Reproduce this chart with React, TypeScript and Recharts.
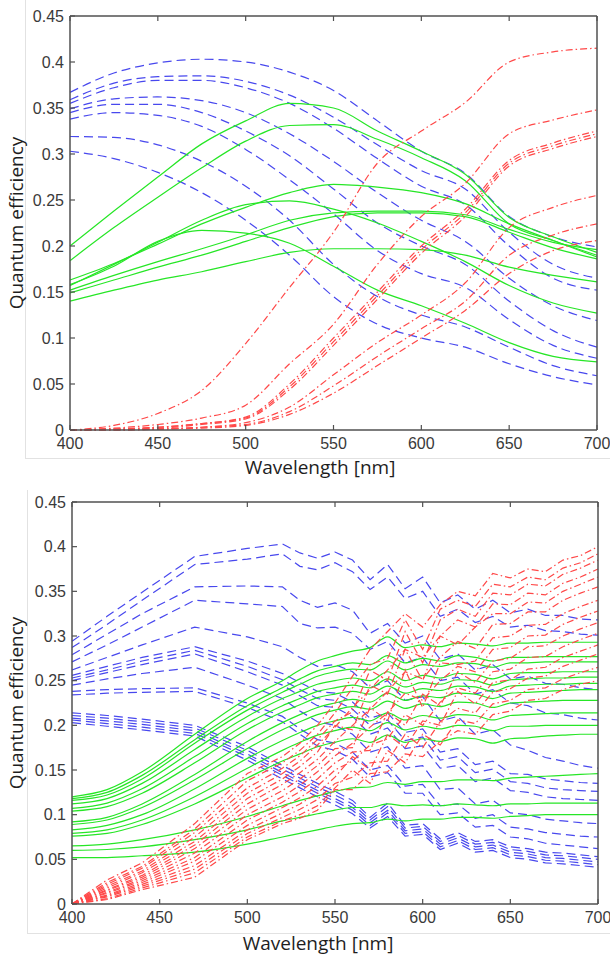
import React from "react";
import { LineChart, Line, XAxis, YAxis } from "recharts";

// wavelength grids (nm)
const X_TOP = [400, 425, 450, 475, 500, 525, 550, 575, 600, 625, 650, 675, 700];
const X_BOTTOM = [400, 420, 440, 470, 500, 520, 530, 540, 550, 560, 570, 580, 590, 600, 610, 620, 630, 640, 650, 660, 670, 680, 690, 700];
const X_TICKS = [400, 450, 500, 550, 600, 650, 700];
const Y_TICKS = [0, 0.05, 0.1, 0.15, 0.2, 0.25, 0.3, 0.35, 0.4, 0.45];

// ---- top panel: blue (dashed) ----
const TB1 = [0.367, 0.388, 0.399, 0.403, 0.4, 0.389, 0.369, 0.336, 0.303, 0.279, 0.232, 0.21, 0.199];
const TB2 = [0.359, 0.377, 0.384, 0.385, 0.379, 0.364, 0.34, 0.31, 0.282, 0.262, 0.215, 0.18, 0.165];
const TB3 = [0.355, 0.372, 0.38, 0.38, 0.372, 0.355, 0.328, 0.295, 0.265, 0.245, 0.2, 0.165, 0.152];
const TB4 = [0.349, 0.36, 0.362, 0.358, 0.345, 0.322, 0.292, 0.258, 0.228, 0.205, 0.165, 0.135, 0.119];
const TB5 = [0.345, 0.354, 0.354, 0.345, 0.325, 0.298, 0.262, 0.225, 0.2, 0.18, 0.14, 0.108, 0.09];
const TB6 = [0.338, 0.345, 0.342, 0.33, 0.305, 0.272, 0.235, 0.195, 0.17, 0.155, 0.12, 0.092, 0.078];
const TB7 = [0.319, 0.318, 0.31, 0.292, 0.265, 0.228, 0.18, 0.145, 0.125, 0.112, 0.09, 0.07, 0.059];
const TB8 = [0.303, 0.295, 0.28, 0.258, 0.228, 0.19, 0.145, 0.115, 0.1, 0.09, 0.072, 0.058, 0.049];
// ---- top panel: green (solid) ----
const TG1 = [0.2, 0.238, 0.275, 0.311, 0.336, 0.355, 0.35, 0.325, 0.303, 0.278, 0.231, 0.21, 0.193];
const TG2 = [0.184, 0.22, 0.253, 0.285, 0.314, 0.331, 0.332, 0.316, 0.296, 0.271, 0.224, 0.206, 0.19];
const TG3 = [0.163, 0.181, 0.202, 0.224, 0.242, 0.258, 0.267, 0.264, 0.258, 0.246, 0.224, 0.206, 0.188];
const TG4 = [0.157, 0.18, 0.204, 0.228, 0.245, 0.249, 0.24, 0.225, 0.205, 0.183, 0.157, 0.138, 0.127];
const TG5 = [0.158, 0.178, 0.205, 0.217, 0.214, 0.203, 0.178, 0.152, 0.135, 0.116, 0.095, 0.08, 0.074];
const TG6 = [0.152, 0.168, 0.183, 0.197, 0.212, 0.228, 0.236, 0.238, 0.238, 0.234, 0.218, 0.204, 0.196];
const TG7 = [0.149, 0.163, 0.177, 0.19, 0.205, 0.22, 0.232, 0.236, 0.236, 0.232, 0.215, 0.198, 0.186];
const TG8 = [0.14, 0.152, 0.163, 0.172, 0.183, 0.193, 0.197, 0.197, 0.196, 0.19, 0.177, 0.168, 0.161];
// ---- top panel: red (dash-dot) ----
const TR1 = [0, 0.005, 0.018, 0.043, 0.094, 0.155, 0.215, 0.29, 0.325, 0.356, 0.4, 0.411, 0.415];
const TR2 = [0, 0.002, 0.006, 0.013, 0.027, 0.072, 0.115, 0.18, 0.232, 0.268, 0.322, 0.337, 0.348];
const TR3 = [0, 0.001, 0.003, 0.007, 0.014, 0.05, 0.1, 0.15, 0.2, 0.24, 0.293, 0.312, 0.325];
const TR4 = [0, 0.001, 0.003, 0.007, 0.013, 0.047, 0.096, 0.146, 0.196, 0.236, 0.29, 0.309, 0.322];
const TR5 = [0, 0.001, 0.002, 0.006, 0.012, 0.044, 0.092, 0.142, 0.192, 0.232, 0.287, 0.306, 0.319];
const TR6 = [0, 0, 0.001, 0.003, 0.008, 0.025, 0.06, 0.095, 0.125, 0.16, 0.22, 0.242, 0.255];
const TR7 = [0, 0, 0.001, 0.003, 0.006, 0.02, 0.048, 0.08, 0.11, 0.14, 0.19, 0.212, 0.224];
const TR8 = [0, 0, 0.001, 0.002, 0.005, 0.017, 0.04, 0.07, 0.1, 0.13, 0.17, 0.195, 0.206];

// ---- bottom panel: blue (dashed) ----
const BB1 = [0.294, 0.322, 0.349, 0.389, 0.398, 0.403, 0.393, 0.387, 0.394, 0.385, 0.363, 0.38, 0.353, 0.366, 0.337, 0.346, 0.33, 0.34, 0.326, 0.33, 0.323, 0.323, 0.319, 0.318];
const BB2 = [0.287, 0.313, 0.34, 0.38, 0.386, 0.392, 0.378, 0.374, 0.382, 0.372, 0.352, 0.366, 0.342, 0.35, 0.322, 0.33, 0.315, 0.322, 0.31, 0.312, 0.306, 0.305, 0.302, 0.301];
const BB3 = [0.279, 0.302, 0.325, 0.355, 0.356, 0.355, 0.34, 0.332, 0.337, 0.329, 0.303, 0.314, 0.292, 0.3, 0.274, 0.28, 0.262, 0.268, 0.252, 0.255, 0.247, 0.246, 0.242, 0.24];
const BB4 = [0.271, 0.29, 0.31, 0.34, 0.336, 0.333, 0.314, 0.309, 0.31, 0.303, 0.285, 0.294, 0.27, 0.276, 0.25, 0.254, 0.235, 0.24, 0.225, 0.222, 0.214, 0.212, 0.208, 0.206];
const BB5 = [0.262, 0.276, 0.29, 0.31, 0.299, 0.288, 0.276, 0.266, 0.268, 0.26, 0.242, 0.25, 0.228, 0.232, 0.205, 0.21, 0.19, 0.195, 0.178, 0.172, 0.164, 0.16, 0.155, 0.152];
const BB6 = [0.256, 0.266, 0.276, 0.288, 0.272, 0.258, 0.248, 0.238, 0.236, 0.226, 0.208, 0.214, 0.192, 0.196, 0.17, 0.174, 0.156, 0.16, 0.146, 0.145, 0.14, 0.138, 0.136, 0.135];
const BB7 = [0.253, 0.262, 0.272, 0.284, 0.266, 0.251, 0.24, 0.23, 0.228, 0.218, 0.2, 0.206, 0.183, 0.187, 0.161, 0.165, 0.147, 0.151, 0.137, 0.135, 0.13, 0.128, 0.127, 0.126];
const BB8 = [0.25, 0.259, 0.268, 0.28, 0.26, 0.245, 0.233, 0.222, 0.22, 0.21, 0.19, 0.197, 0.174, 0.177, 0.152, 0.155, 0.137, 0.141, 0.127, 0.125, 0.12, 0.118, 0.117, 0.116];
const BB9 = [0.245, 0.252, 0.258, 0.265, 0.245, 0.23, 0.216, 0.204, 0.2, 0.19, 0.17, 0.176, 0.152, 0.155, 0.128, 0.13, 0.112, 0.116, 0.102, 0.1, 0.095, 0.093, 0.091, 0.09];
const BB10 = [0.238, 0.24, 0.241, 0.242, 0.225, 0.21, 0.196, 0.184, 0.18, 0.17, 0.15, 0.155, 0.132, 0.134, 0.11, 0.112, 0.096, 0.1, 0.086, 0.084, 0.08, 0.078, 0.076, 0.075];
const BB11 = [0.234, 0.236, 0.237, 0.238, 0.22, 0.204, 0.19, 0.177, 0.172, 0.162, 0.142, 0.147, 0.124, 0.124, 0.1, 0.102, 0.086, 0.088, 0.075, 0.073, 0.068, 0.066, 0.064, 0.062];
const BB12 = [0.214, 0.211, 0.207, 0.2, 0.176, 0.155, 0.145, 0.135, 0.126, 0.116, 0.097, 0.113, 0.088, 0.09, 0.073, 0.08, 0.07, 0.072, 0.064, 0.062, 0.058, 0.057, 0.055, 0.053];
const BB13 = [0.211, 0.208, 0.204, 0.197, 0.172, 0.151, 0.141, 0.131, 0.122, 0.112, 0.094, 0.109, 0.085, 0.087, 0.07, 0.077, 0.067, 0.069, 0.061, 0.059, 0.055, 0.054, 0.052, 0.05];
const BB14 = [0.208, 0.205, 0.201, 0.194, 0.168, 0.147, 0.137, 0.127, 0.118, 0.108, 0.091, 0.105, 0.082, 0.084, 0.067, 0.074, 0.064, 0.066, 0.058, 0.056, 0.052, 0.051, 0.049, 0.047];
const BB15 = [0.206, 0.202, 0.198, 0.191, 0.165, 0.144, 0.134, 0.124, 0.115, 0.105, 0.088, 0.102, 0.079, 0.081, 0.064, 0.071, 0.061, 0.063, 0.055, 0.053, 0.049, 0.048, 0.046, 0.044];
const BB16 = [0.203, 0.199, 0.195, 0.188, 0.161, 0.14, 0.13, 0.12, 0.111, 0.101, 0.085, 0.098, 0.076, 0.078, 0.061, 0.068, 0.058, 0.06, 0.052, 0.05, 0.046, 0.045, 0.043, 0.041];
// ---- bottom panel: green (solid) ----
const BG1 = [0.12, 0.128, 0.148, 0.19, 0.23, 0.25, 0.262, 0.272, 0.278, 0.283, 0.287, 0.299, 0.287, 0.29, 0.288, 0.292, 0.291, 0.289, 0.292, 0.292, 0.293, 0.293, 0.293, 0.293];
const BG2 = [0.118, 0.125, 0.144, 0.184, 0.222, 0.242, 0.252, 0.261, 0.266, 0.27, 0.268, 0.278, 0.27, 0.275, 0.272, 0.278, 0.276, 0.272, 0.276, 0.276, 0.277, 0.277, 0.277, 0.277];
const BG3 = [0.116, 0.122, 0.14, 0.18, 0.217, 0.237, 0.246, 0.255, 0.26, 0.263, 0.262, 0.272, 0.262, 0.268, 0.266, 0.27, 0.269, 0.265, 0.27, 0.27, 0.271, 0.271, 0.271, 0.271];
const BG4 = [0.112, 0.118, 0.135, 0.173, 0.21, 0.23, 0.238, 0.246, 0.25, 0.253, 0.25, 0.26, 0.25, 0.256, 0.253, 0.258, 0.257, 0.252, 0.258, 0.259, 0.259, 0.26, 0.26, 0.26];
const BG5 = [0.107, 0.113, 0.129, 0.165, 0.202, 0.222, 0.23, 0.238, 0.242, 0.245, 0.242, 0.252, 0.243, 0.248, 0.246, 0.251, 0.25, 0.245, 0.251, 0.252, 0.253, 0.253, 0.254, 0.254];
const BG6 = [0.104, 0.109, 0.124, 0.158, 0.195, 0.215, 0.223, 0.231, 0.235, 0.238, 0.235, 0.244, 0.236, 0.241, 0.239, 0.244, 0.243, 0.238, 0.244, 0.245, 0.246, 0.246, 0.247, 0.247];
const BG7 = [0.092, 0.097, 0.112, 0.145, 0.182, 0.203, 0.212, 0.22, 0.225, 0.229, 0.226, 0.236, 0.228, 0.233, 0.231, 0.236, 0.235, 0.23, 0.236, 0.237, 0.238, 0.239, 0.24, 0.24];
const BG8 = [0.089, 0.094, 0.108, 0.139, 0.174, 0.195, 0.204, 0.212, 0.217, 0.221, 0.218, 0.227, 0.219, 0.224, 0.221, 0.226, 0.225, 0.22, 0.225, 0.226, 0.227, 0.228, 0.228, 0.228];
const BG9 = [0.083, 0.088, 0.1, 0.129, 0.163, 0.183, 0.192, 0.2, 0.205, 0.209, 0.205, 0.214, 0.206, 0.211, 0.208, 0.212, 0.211, 0.206, 0.211, 0.212, 0.213, 0.214, 0.214, 0.214];
const BG10 = [0.079, 0.083, 0.094, 0.12, 0.152, 0.172, 0.181, 0.189, 0.194, 0.198, 0.194, 0.203, 0.195, 0.199, 0.196, 0.2, 0.199, 0.194, 0.199, 0.199, 0.2, 0.2, 0.2, 0.2];
const BG11 = [0.076, 0.079, 0.089, 0.112, 0.141, 0.16, 0.168, 0.176, 0.181, 0.185, 0.181, 0.189, 0.181, 0.185, 0.182, 0.186, 0.185, 0.18, 0.185, 0.186, 0.188, 0.189, 0.19, 0.19];
const BG12 = [0.065, 0.067, 0.072, 0.083, 0.098, 0.11, 0.116, 0.121, 0.126, 0.13, 0.131, 0.136, 0.134, 0.137, 0.137, 0.139, 0.139, 0.138, 0.141, 0.142, 0.143, 0.144, 0.145, 0.146];
const BG13 = [0.06, 0.061, 0.064, 0.072, 0.083, 0.093, 0.097, 0.101, 0.105, 0.108, 0.108, 0.112, 0.11, 0.111, 0.11, 0.112, 0.111, 0.11, 0.112, 0.112, 0.113, 0.113, 0.113, 0.113];
const BG14 = [0.052, 0.052, 0.054, 0.058, 0.067, 0.075, 0.079, 0.083, 0.087, 0.09, 0.091, 0.095, 0.093, 0.095, 0.095, 0.097, 0.097, 0.096, 0.098, 0.099, 0.1, 0.1, 0.1, 0.1];
// ---- bottom panel: red (dash-dot) ----
const BR1 = [0, 0.027, 0.046, 0.09, 0.146, 0.165, 0.18, 0.2, 0.225, 0.255, 0.285, 0.305, 0.325, 0.31, 0.335, 0.35, 0.345, 0.37, 0.365, 0.375, 0.372, 0.385, 0.39, 0.4];
const BR2 = [0, 0.024, 0.042, 0.084, 0.138, 0.158, 0.172, 0.19, 0.214, 0.242, 0.268, 0.275, 0.318, 0.285, 0.33, 0.34, 0.333, 0.358, 0.355, 0.366, 0.363, 0.376, 0.382, 0.392];
const BR3 = [0, 0.022, 0.04, 0.08, 0.13, 0.152, 0.166, 0.184, 0.205, 0.215, 0.262, 0.25, 0.305, 0.27, 0.318, 0.33, 0.322, 0.348, 0.346, 0.358, 0.356, 0.369, 0.376, 0.385];
const BR4 = [0, 0.02, 0.037, 0.075, 0.124, 0.146, 0.16, 0.178, 0.198, 0.22, 0.24, 0.262, 0.285, 0.276, 0.3, 0.318, 0.31, 0.336, 0.335, 0.348, 0.346, 0.359, 0.366, 0.375];
const BR5 = [0, 0.018, 0.035, 0.07, 0.118, 0.14, 0.154, 0.17, 0.2, 0.195, 0.245, 0.235, 0.285, 0.25, 0.3, 0.29, 0.31, 0.325, 0.325, 0.338, 0.337, 0.35, 0.358, 0.366];
const BR6 = [0, 0.016, 0.032, 0.066, 0.112, 0.134, 0.147, 0.162, 0.182, 0.2, 0.218, 0.238, 0.26, 0.252, 0.276, 0.294, 0.286, 0.313, 0.314, 0.327, 0.327, 0.34, 0.348, 0.355];
const BR7 = [0, 0.015, 0.03, 0.062, 0.106, 0.127, 0.14, 0.155, 0.174, 0.175, 0.22, 0.205, 0.262, 0.22, 0.27, 0.268, 0.272, 0.298, 0.3, 0.312, 0.313, 0.325, 0.333, 0.34];
const BR8 = [0, 0.013, 0.028, 0.057, 0.1, 0.12, 0.133, 0.148, 0.166, 0.18, 0.198, 0.214, 0.236, 0.228, 0.25, 0.266, 0.26, 0.285, 0.287, 0.3, 0.301, 0.313, 0.321, 0.328];
const BR9 = [0, 0.012, 0.026, 0.052, 0.094, 0.114, 0.126, 0.14, 0.158, 0.17, 0.172, 0.215, 0.2, 0.235, 0.222, 0.26, 0.248, 0.272, 0.275, 0.288, 0.289, 0.3, 0.308, 0.315];
const BR10 = [0, 0.01, 0.024, 0.048, 0.088, 0.108, 0.119, 0.132, 0.15, 0.16, 0.178, 0.185, 0.212, 0.2, 0.226, 0.242, 0.236, 0.26, 0.263, 0.276, 0.277, 0.288, 0.296, 0.303];
const BR11 = [0, 0.009, 0.022, 0.043, 0.083, 0.102, 0.112, 0.124, 0.142, 0.165, 0.15, 0.19, 0.175, 0.205, 0.2, 0.238, 0.224, 0.248, 0.251, 0.263, 0.265, 0.276, 0.283, 0.29];
const BR12 = [0, 0.008, 0.02, 0.039, 0.079, 0.097, 0.106, 0.117, 0.135, 0.142, 0.158, 0.16, 0.19, 0.175, 0.204, 0.219, 0.214, 0.237, 0.241, 0.253, 0.255, 0.266, 0.273, 0.28];
const BR13 = [0, 0.006, 0.018, 0.035, 0.075, 0.093, 0.1, 0.11, 0.13, 0.15, 0.135, 0.172, 0.158, 0.19, 0.178, 0.206, 0.202, 0.224, 0.228, 0.24, 0.242, 0.252, 0.259, 0.265];
const BR14 = [0, 0.005, 0.016, 0.03, 0.072, 0.09, 0.096, 0.105, 0.128, 0.128, 0.146, 0.148, 0.168, 0.165, 0.182, 0.194, 0.19, 0.212, 0.216, 0.228, 0.23, 0.24, 0.246, 0.25];

const TOP_BLUE = [TB1, TB2, TB3, TB4, TB5, TB6, TB7, TB8];
const TOP_GREEN = [TG1, TG2, TG3, TG4, TG5, TG6, TG7, TG8];
const TOP_RED = [TR1, TR2, TR3, TR4, TR5, TR6, TR7, TR8];
const BOT_BLUE = [BB1, BB2, BB3, BB4, BB5, BB6, BB7, BB8, BB9, BB10, BB11, BB12, BB13, BB14, BB15, BB16];
const BOT_GREEN = [BG1, BG2, BG3, BG4, BG5, BG6, BG7, BG8, BG9, BG10, BG11, BG12, BG13, BG14];
const BOT_RED = [BR1, BR2, BR3, BR4, BR5, BR6, BR7, BR8, BR9, BR10, BR11, BR12, BR13, BR14];

const AXIS = "#505050";
const BLUE = "#4848ee";
const GREEN = "#26e626";
const RED = "#ff4848";
const TICK = { fill: "#3a3a3a", fontSize: 16, fontFamily: "'Liberation Sans', Arial, sans-serif" };
const AXIS_LINE = { stroke: AXIS, strokeWidth: 1.5 };
const TICK_LINE = { stroke: AXIS, strokeWidth: 1.2 };
const TITLE: React.CSSProperties = {
  position: "absolute",
  fontFamily: "'Open Sans', sans-serif",
  fontSize: 19,
  color: "#1e1e1e",
  whiteSpace: "nowrap",
  lineHeight: 1,
};

function buildRows(xs: number[], groups: number[][][]) {
  return xs.map((x, i) => {
    const row: Record<string, number> = { x };
    groups.forEach((g, gi) => g.forEach((s, si) => { row[`s${gi}_${si}`] = s[i]; }));
    return row;
  });
}

type PanelProps = {
  top: number;
  xs: number[];
  blue: number[][];
  green: number[][];
  red: number[][];
  smooth: boolean;
  margin: { top: number; right: number; bottom: number; left: number };
  yWidth: number;
};

function Panel({ top, xs, blue, green, red, smooth, margin, yWidth }: PanelProps) {
  const rows = buildRows(xs, [blue, green, red]);
  const jag = smooth ? "monotone" : "linear";
  return (
    <div style={{ position: "absolute", left: 0, top, width: 610, height: 480 }}>
      <LineChart width={610} height={480} data={rows} margin={margin}>
        <XAxis xAxisId="b" type="number" dataKey="x" domain={[400, 700]} ticks={X_TICKS} interval={0}
          height={50} tickSize={-5} tickMargin={13} axisLine={AXIS_LINE} tickLine={TICK_LINE} tick={TICK} />
        <XAxis xAxisId="t" orientation="top" type="number" dataKey="x" domain={[400, 700]} ticks={X_TICKS} interval={0}
          height={1} tickSize={-5} tickFormatter={() => ""} axisLine={AXIS_LINE} tickLine={TICK_LINE} tick={TICK} />
        <YAxis yAxisId="l" type="number" domain={[0, 0.45]} ticks={Y_TICKS} interval={0}
          width={yWidth} tickSize={-5} tickMargin={11} axisLine={AXIS_LINE} tickLine={TICK_LINE} tick={TICK} />
        <YAxis yAxisId="r" orientation="right" type="number" domain={[0, 0.45]} ticks={Y_TICKS} interval={0}
          width={1} tickSize={-5} tickFormatter={() => ""} axisLine={AXIS_LINE} tickLine={TICK_LINE} tick={TICK} />
        {blue.map((_, i) => (
          <Line key={`b${i}`} xAxisId="b" yAxisId="l" dataKey={`s0_${i}`} type={jag} stroke={BLUE}
            strokeWidth={1.2} strokeDasharray="9 5" dot={false} activeDot={false} isAnimationActive={false} />
        ))}
        {green.map((_, i) => (
          <Line key={`g${i}`} xAxisId="b" yAxisId="l" dataKey={`s1_${i}`} type="monotone" stroke={GREEN}
            strokeWidth={1.2} dot={false} activeDot={false} isAnimationActive={false} />
        ))}
        {red.map((_, i) => (
          <Line key={`r${i}`} xAxisId="b" yAxisId="l" dataKey={`s2_${i}`} type={jag} stroke={RED}
            strokeWidth={1.2} strokeDasharray="7 3 1.5 3" dot={false} activeDot={false} isAnimationActive={false} />
        ))}
      </LineChart>
    </div>
  );
}

export default function App() {
  return (
    <div style={{ position: "absolute", left: 0, top: 0, width: 610, height: 955, background: "#fff", overflow: "hidden" }}>
      {/* faint figure borders */}
      <div style={{ position: "absolute", left: 25, top: 0, width: 1, height: 458, background: "#e2e2e2" }} />
      <div style={{ position: "absolute", left: 25, top: 458, width: 585, height: 1, background: "#e2e2e2" }} />
      <div style={{ position: "absolute", left: 27, top: 490, width: 1, height: 443, background: "#e2e2e2" }} />
      <div style={{ position: "absolute", left: 27, top: 933, width: 583, height: 1, background: "#e2e2e2" }} />

      <Panel top={0} xs={X_TOP} blue={TOP_BLUE} green={TOP_GREEN} red={TOP_RED} smooth
        margin={{ top: 15, right: 12, bottom: 0, left: 0 }} yWidth={70} />
      <Panel top={480} xs={X_BOTTOM} blue={BOT_BLUE} green={BOT_GREEN} red={BOT_RED} smooth={false}
        margin={{ top: 21, right: 11, bottom: 6, left: 0 }} yWidth={72} />

      <div style={{ ...TITLE, left: 320, top: 467, transform: "translate(-50%, -50%)" }}>Wavelength [nm]</div>
      <div style={{ ...TITLE, left: 318, top: 943, transform: "translate(-50%, -50%)" }}>Wavelength [nm]</div>
      <div style={{ ...TITLE, left: 16, top: 223, transform: "translate(-50%, -50%) rotate(-90deg)" }}>Quantum efficiency</div>
      <div style={{ ...TITLE, left: 16, top: 703, transform: "translate(-50%, -50%) rotate(-90deg)" }}>Quantum efficiency</div>
    </div>
  );
}
